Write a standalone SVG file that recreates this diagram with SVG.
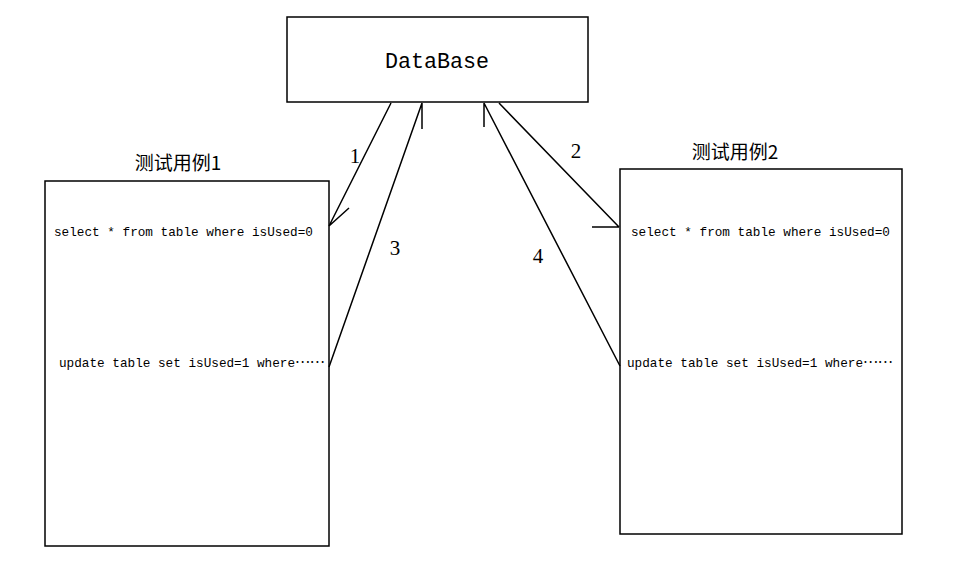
<svg xmlns="http://www.w3.org/2000/svg" width="957" height="563" viewBox="0 0 957 563">
<style>
.box{fill:#fff;stroke:#000;stroke-width:1.5}
.ln{stroke:#000;stroke-width:1.5;fill:none}
.mono{font-family:"Liberation Mono","DejaVu Sans Mono",monospace;fill:#000}
.ell{font-family:"Noto Sans CJK SC",sans-serif;font-size:14px}
.num{font-family:"Liberation Serif","DejaVu Serif",serif;font-size:21px;fill:#000;text-anchor:middle}
.cjk{font-family:"Noto Sans CJK SC","Noto Sans",sans-serif;font-size:19px;fill:#000;text-anchor:middle}
</style>
<rect width="957" height="563" fill="#fff"/>
<g id="database">
<rect class="box" x="287" y="17" width="301" height="85"/>
<text class="mono" x="437" y="68" font-size="21.7" text-anchor="middle">DataBase</text>
</g>
<g id="case1">
<text class="cjk" x="178" y="170">测试用例1</text>
<rect class="box" x="45" y="181" width="284" height="365"/>
<text class="mono" x="54" y="236" font-size="12.7">select * from table where isUsed=0</text>
<text class="mono" x="59" y="367" font-size="12.7">update table set isUsed=1 where<tspan class="ell" dy="-4">……</tspan></text>
</g>
<g id="case2">
<text class="cjk" x="735" y="159">测试用例2</text>
<rect class="box" x="620" y="169" width="282" height="365"/>
<text class="mono" x="631" y="236" font-size="12.7">select * from table where isUsed=0</text>
<text class="mono" x="627" y="367" font-size="12.7">update table set isUsed=1 where<tspan class="ell" dy="-4">……</tspan></text>
</g>
<g id="connectors">
<path class="ln" d="M391 103 L329 226 M329 226 L349 208"/>
<path class="ln" d="M499 103 L619 227 M592 227 L619 227"/>
<path class="ln" d="M329 367 L422 103 M422 103 L422 129"/>
<path class="ln" d="M620 366 L484 103 M484 103 L484 127"/>
<text class="num" x="355" y="163">1</text>
<text class="num" x="576" y="158">2</text>
<text class="num" x="395" y="255">3</text>
<text class="num" x="538" y="263">4</text>
</g>
</svg>
